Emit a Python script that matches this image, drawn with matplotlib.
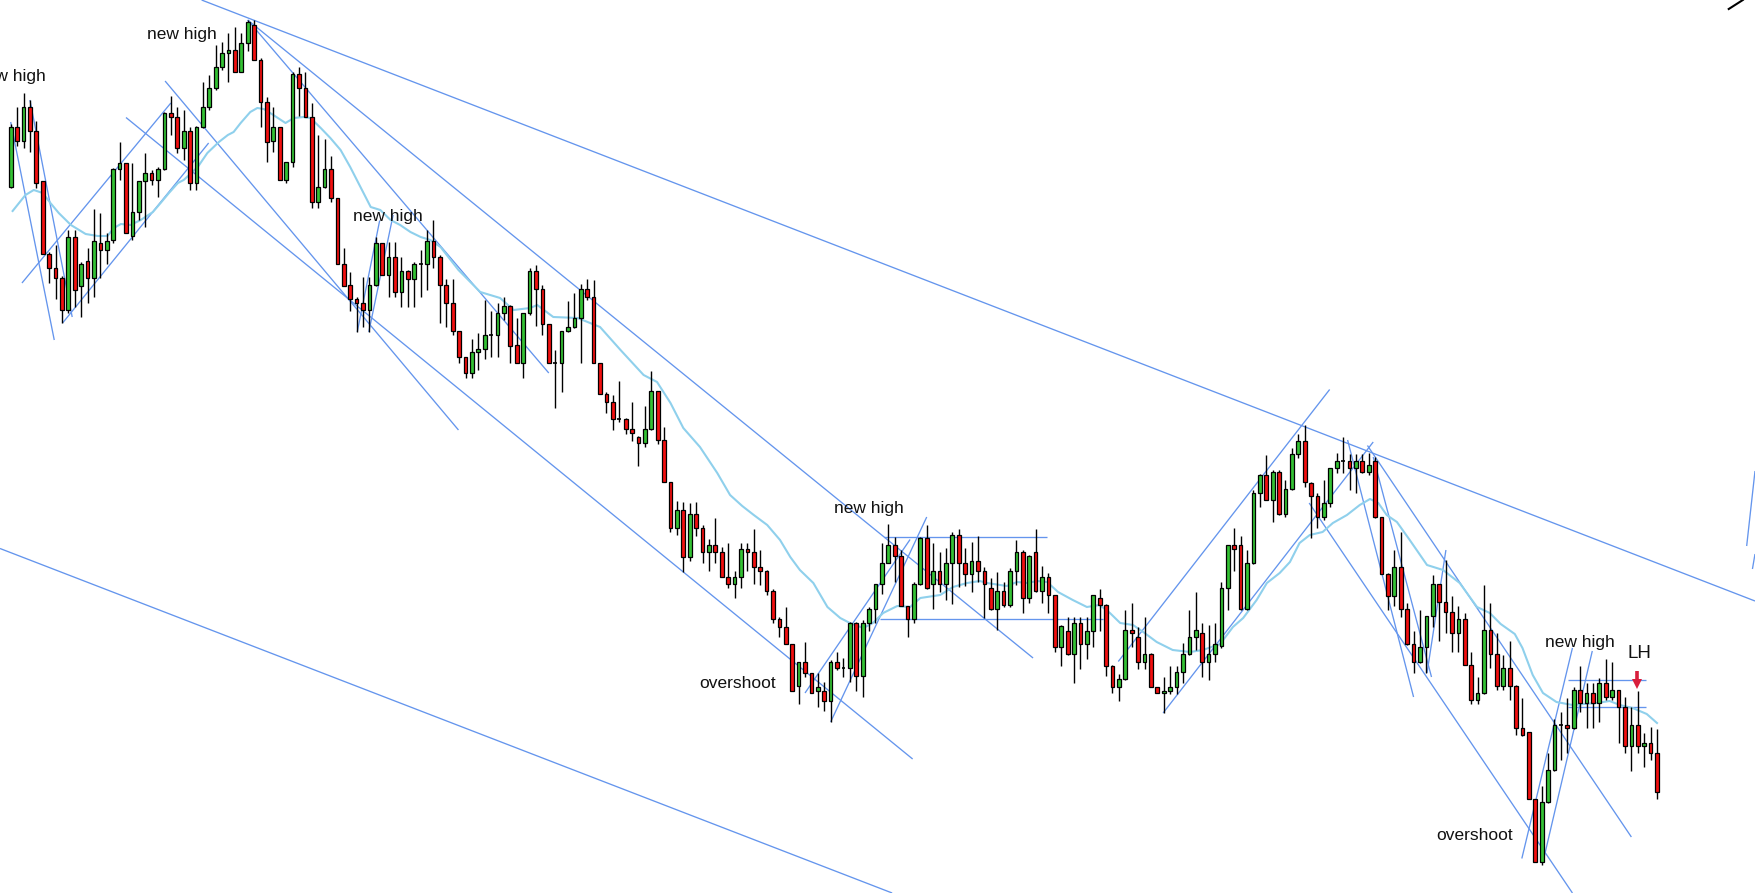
import matplotlib
matplotlib.use("Agg")
import matplotlib.pyplot as plt
from matplotlib.patches import Rectangle

# ---------------- data (price units) ----------------
opens = [713,773,759,793,769,719,646,632,622,590,663,614,639,622,657,650,660,731,737,664,
         688,719,727,720,731,787,783,752,769,717,773,793,812,833,847,850,828,857,875,840,
         798,759,773,720,738,826,812,783,698,713,731,702,636,615,601,597,590,615,657,625,
         643,608,629,621,636,636,659,643,615,597,569,543,527,548,551,565,565,587,594,555,
         537,587,629,611,576,537,537,569,573,582,611,603,537,506,498,481,481,471,463,457,
         471,509,460,418,372,390,343,386,372,348,355,348,323,316,323,351,348,333,329,309,
         281,273,256,214,238,227,209,209,199,238,232,232,277,224,277,291,316,337,355,344,
         294,281,316,362,316,329,316,337,365,337,326,339,329,312,291,309,295,329,348,302,
         348,309,323,305,253,269,246,277,256,269,302,295,234,213,221,270,263,238,246,213,
         207,209,213,228,246,263,267,238,246,254,312,355,355,291,337,407,425,400,428,386,
         411,446,459,417,404,383,397,432,439,439,432,439,428,439,383,326,304,333,291,256,
         238,253,284,316,298,288,267,281,235,200,207,270,246,214,232,214,172,168,101,38,
         98,130,175,175,172,210,197,207,197,217,203,210,193,154,175,154,157,147]
highs = [776,793,807,800,779,719,648,655,624,670,670,638,652,691,687,667,732,758,737,737,
         719,747,730,733,788,804,793,790,773,774,818,825,855,858,867,873,867,880,880,842,
         803,793,773,738,828,833,828,797,765,761,744,702,652,628,603,623,623,663,657,658,
         658,643,630,638,650,670,680,645,621,621,569,543,561,567,600,589,597,603,595,582,
         587,632,635,615,576,550,569,599,607,616,621,620,537,508,505,519,482,498,464,494,
         529,509,473,418,399,398,397,398,375,361,382,353,357,329,357,357,371,350,330,311,
         283,293,256,238,258,227,227,218,240,248,242,278,278,280,293,316,357,376,363,350,
         294,318,363,375,357,348,352,368,371,352,358,364,333,322,328,318,332,360,350,345,
         371,334,327,305,275,283,283,283,283,305,311,296,235,226,290,297,273,283,247,213,
         223,234,234,257,290,308,277,275,277,318,355,372,364,350,410,426,445,430,430,420,
         452,466,475,418,407,420,432,447,463,446,446,446,447,443,383,327,350,368,297,269,
         290,284,325,316,340,304,294,287,248,223,315,297,267,245,259,215,202,168,101,114,
         147,181,188,202,213,234,217,217,222,241,238,210,203,193,209,167,173,171]
lows = [712,754,752,748,712,646,617,601,577,587,593,583,597,603,622,636,657,720,667,660,
        680,673,715,703,730,765,747,740,710,710,772,790,810,830,818,828,828,849,840,773,
        738,748,720,717,733,784,783,692,692,712,698,636,614,589,568,573,568,614,625,603,
        603,593,593,593,603,610,632,577,573,565,537,522,522,530,541,543,543,580,537,537,
        522,585,574,565,537,492,508,568,572,537,600,537,506,487,470,478,466,459,434,453,
        470,456,418,368,365,328,339,364,337,329,337,323,312,302,312,329,316,315,305,277,
        263,256,209,196,223,207,193,189,178,230,223,218,209,203,269,277,306,337,318,294,
        263,277,315,311,291,308,300,296,313,314,308,318,282,290,270,293,293,315,287,297,
        308,297,287,248,234,245,217,231,241,253,269,224,207,199,220,253,231,231,213,207,
        187,206,206,217,245,250,223,220,238,252,290,329,290,290,336,393,400,378,385,383,
        410,442,413,362,372,380,393,427,427,410,407,427,425,382,326,290,294,283,255,227,
        237,227,273,259,267,248,248,235,196,196,206,232,210,210,200,165,164,101,38,35,
        97,129,140,147,171,188,172,172,178,200,200,157,147,129,147,133,140,101]
closes = [773,759,793,769,717,646,632,622,590,663,610,636,622,659,650,659,731,737,667,688,
          719,727,720,731,787,783,752,769,717,773,793,812,833,847,850,828,857,878,840,798,
          758,773,720,738,826,812,783,698,713,731,702,636,614,601,597,590,615,657,625,643,
          608,629,621,636,636,659,643,615,597,569,543,527,548,551,565,565,587,594,554,537,
          587,629,611,576,537,537,569,573,582,611,603,537,506,498,481,481,471,467,457,471,
          509,460,418,372,390,343,386,372,348,355,348,323,316,323,351,348,333,329,309,281,
          273,256,209,238,227,207,213,199,238,232,232,277,224,277,291,316,337,355,344,294,
          281,316,362,312,329,316,337,365,337,326,339,329,316,291,309,295,329,348,302,344,
          309,323,305,253,274,246,277,256,269,305,295,234,213,221,270,267,238,246,213,207,
          209,213,228,246,263,270,238,246,256,312,355,351,291,337,407,425,400,428,386,411,
          446,459,418,404,383,397,432,439,439,432,439,428,435,383,326,304,333,291,256,238,
          253,284,316,298,288,267,281,235,200,207,270,246,214,232,214,172,165,101,38,98,
          130,175,175,172,210,197,207,197,217,203,210,193,154,175,154,157,147,108]

# moving average (candle position, value)
ma_pos = [0.3,2.3,3.6,5.0,6.2,7.5,9.4,11.7,13.6,15.1,16.1,17.2,18.7,20.3,22.2,23.4,24.7,26.1,27.0,29.2,
          30.7,32.5,33.9,34.8,35.9,37.4,38.5,39.5,41.0,42.9,44.2,45.7,46.8,48.4,49.9,51.5,53.0,54.6,56.2,57.7,
          59.3,60.8,62.4,64.0,65.5,67.1,69.9,73.3,76.4,78.5,81.1,82.2,84.7,88.5,92.0,95.2,98.8,100.9,103.0,105.0,
          107.6,110.3,112.3,114.2,116.0,118.1,120.1,121.7,123.2,125.3,127.5,129.5,131.0,133.1,134.6,136.2,138.4,140.4,142.0,145.1,
          147.1,149.3,151.3,152.4,154.4,155.5,157.1,158.7,160.2,161.8,163.5,165.8,168.0,170.0,171.6,173.2,175.2,176.8,178.9,181.4,
          184.1,186.1,188.8,190.8,192.4,194.5,196.1,198.1,199.7,201.2,202.8,204.8,206.4,208.6,210.6,212.2,213.5,214.8,216.4,218.4,
          221.1,223.6,226.2,228.9,230.9,232.6,234.8,236.0,237.6,239.2,241.3,243.8,247.6,249.6,251.2,253.2,255.4,257.0]
ma_val = [689,705,710,707,697,687,675,666,664,664,672,676,675,680,688,697,707,717,720,733,
          747,758,765,768,777,788,792,791,785,777,782,783,782,772,762,750,733,713,693,690,
          680,675,668,663,660,653,630,608,602,590,592,595,583,582,573,550,525,518,497,472,
          453,427,405,394,385,375,360,343,330,317,293,282,277,272,277,287,294,293,302,305,
          313,317,319,317,315,314,318,317,319,318,308,300,293,295,287,277,275,268,258,250,
          248,250,256,273,282,300,317,327,338,357,365,368,377,385,395,401,397,385,378,360,
          335,330,317,293,287,276,266,252,225,207,198,195,197,199,195,192,186,177]

# trend lines drawn on the chart: ((pos1, price1), (pos2, price2))
trend_lines = [
    ((29.8, 900), (272.3, 299)),
    ((-1.67, 351.5), (137.6, 7)),
    ((37, 880), (159.6, 242)),
    ((37, 880), (84, 527)),
    ((0, 778), (6.8, 560)),
    ((3, 800), (9.6, 583)),
    ((1.76, 617), (25, 797)),
    ((8.1, 577), (30.9, 757)),
    ((18, 782.5), (140.8, 141)),
    ((24.1, 819), (69.9, 470)),
    ((54.1, 568), (57.6, 679.5)),
    ((55.9, 568), (59.7, 685)),
    ((128, 178), (143, 383)),
    ((124, 207), (140.4, 360.5)),
    ((136.3, 363), (161.8, 363)),
    ((135.7, 281), (170.5, 281)),
    ((172.9, 238.5), (205.9, 510.5)),
    ((179.9, 187), (212.7, 458)),
    ((208.7, 460), (219, 203)),
    ((212.7, 443), (221.8, 223)),
    ((211.8, 454.5), (253, 63)),
    ((202.7, 397), (243.8, 7)),
    ((221.1, 227), (224.05, 350)),
    ((235.9, 41.5), (243.8, 252)),
    ((239.2, 38), (246.9, 249)),
    ((243.1, 220), (255.3, 220)),
    ((243.1, 192.6), (255.3, 192.6)),
    ((271, 354), (272.3, 429)),
    ((271.9, 331), (272.3, 346)),
]

labels = ["new high", "new high", "new high", "new high", "overshoot", "new high", "LH", "overshoot"]
label_pos = [(5.4, 823), (26.7, 865), (58.9, 683), (133.9, 391), (113.4, 216), (244.9, 257), (254.2, 246), (228.5, 65)]
label_ha = ["right", "center", "center", "center", "center", "center", "center", "center"]
label_size = [12.5, 12.5, 12.5, 12.5, 12.5, 12.5, 13.5, 12.5]

# LH signal arrow (position, top price, tip price)
arrow_pos, arrow_top, arrow_tip = 253.9, 229, 213

# ---------------- drawing ----------------
UP = "#34C234"
DOWN = "#F21010"
LINE = "#6495ED"
MA = "#8FD0EC"
ARROW = "#D81E3C"

fig = plt.figure(figsize=(17.55, 8.93), dpi=100)
ax = fig.add_axes([0, 0, 1, 1])
ax.set_xlim(-1.67, 272.3)
ax.set_ylim(7, 900)
ax.axis("off")

for (x1, y1), (x2, y2) in trend_lines:
    ax.plot([x1, x2], [y1, y2], color=LINE, lw=0.95, zorder=2, solid_capstyle="butt")

ax.plot([268.2, 270.4], [891, 900], color="black", lw=1.5, zorder=2)

ax.plot(ma_pos, ma_val, color=MA, lw=1.5, zorder=3)

w = 0.58
for i, (o, h, l, c) in enumerate(zip(opens, highs, lows, closes)):
    ax.vlines(i, l, h, color="black", lw=1.0, zorder=4)
    if o == c:
        ax.hlines(o, i - w / 2, i + w / 2, color="black", lw=1.2, zorder=5)
    else:
        col = UP if c > o else DOWN
        ax.add_patch(Rectangle((i - w / 2, min(o, c)), w, abs(c - o),
                               facecolor=col, edgecolor="black", lw=0.9, zorder=5))

for txt, (x, y), ha, fs in zip(labels, label_pos, label_ha, label_size):
    ax.text(x, y, txt, ha=ha, va="center", fontsize=fs, family=["Liberation Sans", "DejaVu Sans"],
            color="#111111", zorder=6)

# arrow: shaft + head
ax.plot([arrow_pos, arrow_pos], [arrow_top, arrow_tip + 6], color=ARROW, lw=2.6,
        solid_capstyle="butt", zorder=6)
ax.plot([arrow_pos], [arrow_tip + 3], marker="v", markersize=7.5, color=ARROW,
        markeredgewidth=0, zorder=6)

fig.savefig("out.png", dpi=100, facecolor="white")
